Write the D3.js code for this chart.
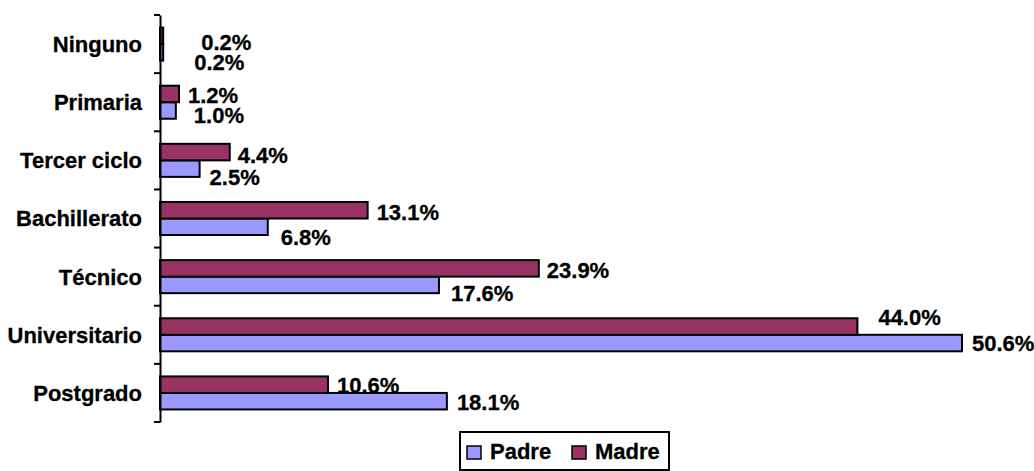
<!DOCTYPE html>
<html>
<head>
<meta charset="utf-8">
<script src="https://cdn.jsdelivr.net/npm/d3@7/dist/d3.min.js"></script>
<style>
  body { margin: 0; background: #fff; }
  text { font-family: "Liberation Sans", Arial, sans-serif; font-weight: bold; font-size: 22px; fill: #000; stroke: #000; stroke-width: 0.3px; }
</style>
</head>
<body>
<svg width="1034" height="471"></svg>
<script>
// data
var categories = ["Ninguno", "Primaria", "Tercer ciclo", "Bachillerato", "Técnico", "Universitario", "Postgrado"];
var padre = [0.2, 1.0, 2.5, 6.8, 17.6, 50.6, 18.1];
var madre = [0.2, 1.2, 4.4, 13.1, 23.9, 44.0, 10.6];
var seriesNames = ["Padre", "Madre"];

// label nudges (px) - labels in the original were hand placed
var madreNudge = [[38, 6], [9, 1], [8, 3], [9, 2], [8, 2], [21, -9], [9, 0]];
var padreNudge = [[31, 10], [18, 5], [10, 8], [13, 10], [12, 8], [10, 0], [10, 1]];

var svg = d3.select("svg");
var colors = {Padre: "#9999ff", Madre: "#993366"};

var x = d3.scaleLinear().domain([0, 50.6]).range([160, 962]);

// category bands
var y = d3.scaleBand()
    .domain(categories)
    .range([15, 422])
    .paddingInner(0)
    .paddingOuter(0);

// inner band for the two series (Madre on top)
var inner = d3.scaleBand()
    .domain(["Madre", "Padre"])
    .range([0, y.bandwidth()])
    .paddingOuter(0.76)
    .paddingInner(0);

var rows = categories.map(function(c, i) {
  return {cat: c, i: i, Padre: padre[i], Madre: madre[i]};
});

var g = svg.append("g");

seriesNames.forEach(function(s) {
  g.selectAll("rect." + s)
    .data(rows)
    .enter().append("rect")
      .attr("class", s)
      .attr("x", x(0))
      .attr("y", function(d) { return y(d.cat) + inner(s); })
      .attr("width", function(d) { return x(d[s]) - x(0); })
      .attr("height", inner.bandwidth())
      .attr("fill", colors[s])
      .attr("stroke", "#000")
      .attr("stroke-width", 2);
});

// value labels
seriesNames.forEach(function(s) {
  var nudge = s === "Padre" ? padreNudge : madreNudge;
  g.selectAll("text." + s)
    .data(rows)
    .enter().append("text")
      .attr("class", s)
      .attr("x", function(d) { return x(d[s]) + nudge[d.i][0]; })
      .attr("y", function(d) { return y(d.cat) + inner(s) + inner.bandwidth() / 2 + nudge[d.i][1]; })
      .attr("dy", "0.36em")
      .text(function(d) { return d[s].toFixed(1) + "%"; });
});

// vertical axis
var axis = svg.append("g")
    .attr("transform", "translate(160,0)")
    .call(d3.axisLeft(y).tickSize(0).tickPadding(18));
axis.select(".domain").attr("stroke", "#000").attr("stroke-width", 2);
axis.selectAll(".tick text")
    .attr("font-size", null)
    .attr("font-family", null)
    .attr("dy", "0.36em");

// tick marks between categories
var bounds = categories.map(function(c) { return y(c); }).concat([y.range()[1]]);
axis.selectAll("line.sep")
  .data(bounds)
  .enter().append("line")
    .attr("class", "sep")
    .attr("x1", -6).attr("x2", 0)
    .attr("y1", function(d) { return d; })
    .attr("y2", function(d) { return d; })
    .attr("stroke", "#000")
    .attr("stroke-width", 2);

// legend
var legend = svg.append("g").attr("transform", "translate(460,432)");
legend.append("rect")
    .attr("width", 209).attr("height", 38)
    .attr("fill", "#fff").attr("stroke", "#000").attr("stroke-width", 2);

var item = legend.selectAll("g.item")
  .data(seriesNames)
  .enter().append("g")
    .attr("class", "item")
    .attr("transform", function(d, i) { return "translate(" + (7 + i * 105) + ",0)"; });
item.append("rect")
    .attr("y", 14).attr("width", 14).attr("height", 13)
    .attr("fill", function(d) { return colors[d]; })
    .attr("stroke", "#000").attr("stroke-width", 1.5);
item.append("text")
    .attr("x", 23).attr("y", 27)
    .text(function(d) { return d; });
</script>
</body>
</html>
